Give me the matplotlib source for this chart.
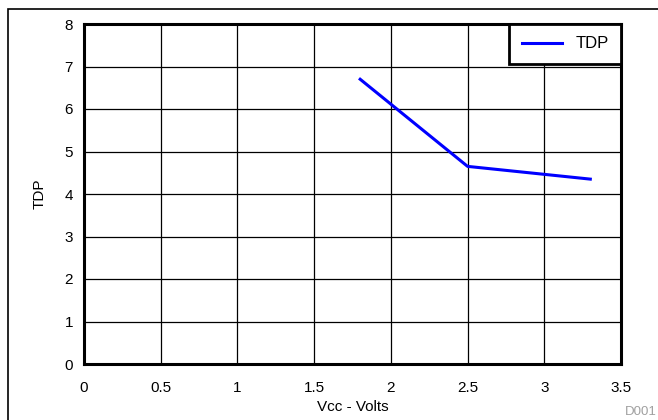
import matplotlib
matplotlib.use("Agg")
import matplotlib.pyplot as plt
from matplotlib.patches import Rectangle

plt.rcParams["font.family"] = ["Liberation Sans", "DejaVu Sans"]

vcc = [1.8, 2.5, 3.3]
tdp = [6.7, 4.65, 4.35]
x_ticks = [0, 0.5, 1, 1.5, 2, 2.5, 3, 3.5]
x_labels = ["0", "0.5", "1", "1.5", "2", "2.5", "3", "3.5"]
y_ticks = [0, 1, 2, 3, 4, 5, 6, 7, 8]

fig = plt.figure(figsize=(6.58, 4.2), dpi=100)
ax = fig.add_axes([84 / 658, 1 - 364 / 420, (621 - 84) / 658, (364 - 24) / 420])

# outer frame, only left and top edges fall inside the picture
fig.patches.append(Rectangle((8 / 658, -10 / 420), 680 / 658, 421 / 420,
                             transform=fig.transFigure, fill=False,
                             edgecolor="black", linewidth=1.2))

ax.plot(vcc, tdp, color="blue", linewidth=2.2, label="TDP", zorder=3)

ax.set_xlim(0, 3.5)
ax.set_ylim(0, 8)
ax.set_xticks(x_ticks)
ax.set_xticklabels(x_labels)
ax.set_yticks(y_ticks)
ax.tick_params(axis="x", length=0, labelsize=11, pad=12)
ax.tick_params(axis="y", length=0, labelsize=11, pad=8)
ax.grid(True, color="black", linewidth=0.9)
for s in ax.spines.values():
    s.set_linewidth(2.2)

ax.set_xlabel("Vcc - Volts", fontsize=11, labelpad=4)
ax.set_ylabel("TDP", fontsize=11, labelpad=13)

leg = ax.legend(loc="upper right", fontsize=12, fancybox=False, framealpha=1,
                borderaxespad=0, handlelength=2.4, borderpad=0.75,
                handletextpad=0.8)
leg.get_frame().set_edgecolor("black")
leg.get_frame().set_linewidth(2)

fig.text(657 / 658, 1 - 418 / 420, "D001", color="#a0a0a0", fontsize=9.5,
         ha="right", va="bottom")

fig.savefig("out.png", dpi=100)
